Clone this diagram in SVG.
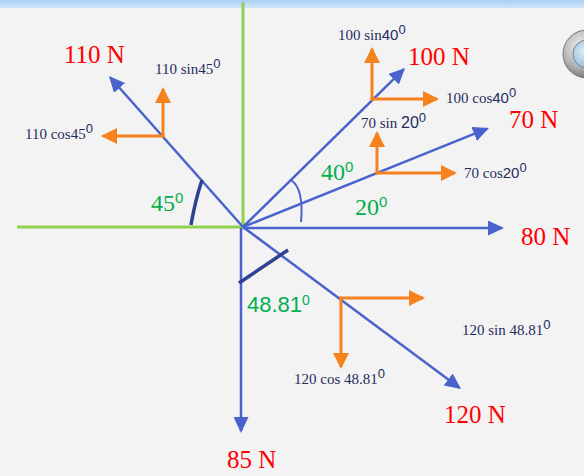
<svg xmlns="http://www.w3.org/2000/svg" width="584" height="476" viewBox="0 0 584 476">
<defs>
<linearGradient id="bar" x1="0" y1="0" x2="0" y2="1"><stop offset="0" stop-color="#a9cff3"/><stop offset="1" stop-color="#cfe5f8"/></linearGradient>
<radialGradient id="ring" cx="0.4" cy="0.35" r="0.7"><stop offset="0" stop-color="#f4f4f4"/><stop offset="0.6" stop-color="#b4b4b4"/><stop offset="1" stop-color="#6e6e6e"/></radialGradient>
<radialGradient id="hole" cx="0.4" cy="0.4" r="0.7"><stop offset="0" stop-color="#d8ecf8"/><stop offset="1" stop-color="#8fb8d2"/></radialGradient>
<marker id="ab" markerUnits="userSpaceOnUse" markerWidth="17" markerHeight="15" refX="14" refY="7.5" orient="auto"><path d="M0,0 L16,7.5 L0,15 z" fill="#4a63cc"/></marker>
<marker id="ao" markerUnits="userSpaceOnUse" markerWidth="17" markerHeight="16" refX="14" refY="8" orient="auto"><path d="M0,0 L16,8 L0,16 z" fill="#f5821f"/></marker>
</defs>
<style>
.f{stroke:#4a63cc;stroke-width:2.5;fill:none;marker-end:url(#ab)}
.o{stroke:#f5821f;stroke-width:3;fill:none;marker-end:url(#ao)}
.ax{stroke:#92d050;stroke-width:3}
.mk{stroke:#2e4190;stroke-width:3.5;fill:none}
.r{font-family:"Liberation Serif",serif;font-size:25px;fill:#ff0000}
.s{font-family:"Liberation Serif",serif;font-size:15px;fill:#1f2d5e}
.ss{font-family:"Liberation Sans",sans-serif}
.g{font-family:"Liberation Serif",serif;font-size:24px;fill:#00b050}
.gs{font-family:"Liberation Sans",sans-serif;font-size:22px;fill:#00b050}
</style>
<rect width="584" height="476" fill="#f3f3f3"/>
<rect width="584" height="8" fill="url(#bar)"/>
<circle cx="587" cy="54" r="24" fill="url(#ring)" stroke="#7a7a7a" stroke-width="1"/>
<circle cx="587" cy="54" r="14" fill="url(#hole)" stroke="#6f8796" stroke-width="1"/>
<g id="axes">
<line class="ax" x1="243" y1="2" x2="243" y2="227"/>
<line class="ax" x1="17" y1="227" x2="243" y2="227"/>
</g>
<g id="connectors">
<line class="f" x1="243" y1="228" x2="502" y2="228"/>
<line class="f" x1="241" y1="228" x2="241" y2="431"/>
<line class="f" x1="243" y1="227" x2="110.3" y2="77.5"/>
<line class="f" x1="243" y1="227" x2="403.6" y2="69.4"/>
<line class="f" x1="243" y1="227" x2="487.1" y2="128.7"/>
<line class="f" x1="243" y1="227" x2="459.4" y2="387.8"/>
<line class="o" x1="163" y1="137.5" x2="163" y2="89"/>
<line class="o" x1="164.5" y1="136" x2="103" y2="136"/>
<line class="o" x1="372" y1="100.5" x2="372" y2="49"/>
<line class="o" x1="370.5" y1="99" x2="437" y2="99"/>
<line class="o" x1="377" y1="174.5" x2="377" y2="133"/>
<line class="o" x1="375.5" y1="173" x2="455" y2="173"/>
<line class="o" x1="339.5" y1="298" x2="423" y2="298"/>
<line class="o" x1="341" y1="296.5" x2="341" y2="367"/>
<path class="mk" d="M191,225 Q195,201 202,180"/>
<path class="mk" d="M239,283 L288,250"/>
<path d="M291,180 C300,186 303,200 301,222" stroke="#4a63cc" stroke-width="2" fill="none"/>
</g>
<g id="n110">
<text class="r" x="64" y="63">110 N</text>
<text class="s" x="155" y="74">110 sin45<tspan class="ss" font-size="13" dy="-6">0</tspan></text>
<text class="s" x="25" y="139">110 cos45<tspan class="ss" font-size="13" dy="-6">0</tspan></text>
<text class="g" x="151" y="211">45<tspan class="ss" font-size="15" dy="-8">0</tspan></text>
</g>
<g id="n100">
<text class="r" x="408" y="65">100 N</text>
<text class="s" x="338" y="40">100 sin<tspan class="ss">40</tspan><tspan class="ss" font-size="13" dy="-6">0</tspan></text>
<text class="s" x="446" y="103">100 cos<tspan class="ss">40</tspan><tspan class="ss" font-size="13" dy="-6">0</tspan></text>
<text class="g" x="321" y="180">40<tspan class="ss" font-size="15" dy="-8">0</tspan></text>
</g>
<g id="n70">
<text class="r" x="509" y="128">70 N</text>
<text class="s" x="361" y="128">70 sin <tspan class="ss" font-size="16">20</tspan><tspan class="ss" font-size="13" dy="-6">0</tspan></text>
<text class="s" x="464" y="178">70 cos<tspan class="ss">20</tspan><tspan class="ss" font-size="13" dy="-6">0</tspan></text>
<text class="g" x="355" y="215">20<tspan class="ss" font-size="15" dy="-8">0</tspan></text>
</g>
<g id="n80">
<text class="r" x="521" y="245">80 N</text>
</g>
<g id="n85">
<text class="r" x="227" y="468">85 N</text>
</g>
<g id="n120">
<text class="r" x="444" y="423">120 N</text>
<text class="s" x="462" y="335">120 sin 48.81<tspan class="ss" font-size="13" dy="-6">0</tspan></text>
<text class="s" x="294" y="384">120 cos 48.81<tspan class="ss" font-size="13" dy="-6">0</tspan></text>
<text class="gs" x="247" y="312">48.81<tspan font-size="14" dy="-7">0</tspan></text>
</g>
</svg>
